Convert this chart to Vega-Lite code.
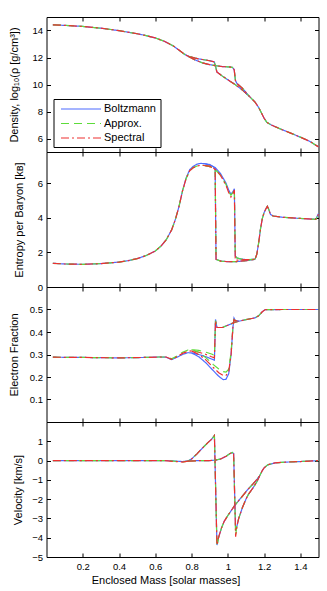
{
"$schema": "https://vega.github.io/schema/vega-lite/v6.json",
"autosize": {"type": "pad"},
"padding": {"left": 7.5, "top": 16, "right": 10, "bottom": 5},
"background": "white",
"spacing": 0,
"bounds": "flush",
"config": {
  "font": "Liberation Sans",
  "view": {"stroke": "#000", "strokeWidth": 1},
  "axis": {"domain": false, "grid": false, "tickColor": "#000", "tickSize": -4, "tickWidth": 1, "labelColor": "#000", "titleColor": "#000", "labelFont": "Liberation Sans", "titleFont": "Liberation Sans", "labelFontSize": 9.5, "titleFontSize": 11, "titleFontWeight": "normal", "labelOverlap": false, "labelFlush": false, "labelPadding": 8},
  "axisLeft": {"titleBaseline": "middle"},
  "legend": {"orient": "none", "legendX": 7, "legendY": 82, "title": null, "symbolType": "M-4,0H4", "symbolSize": 100, "symbolStrokeWidth": 1.2, "symbolOffset": 17.5, "labelOffset": 17, "labelFontSize": 11, "labelFont": "Liberation Sans", "labelColor": "#000", "padding": 4, "rowPadding": 3.5, "strokeColor": "#000", "fillColor": "#fff"}
},
"datasets": {
"rho": [
{"snap":"A","x":0.035,"Boltzmann":14.42,"Approx":14.42,"Spectral":14.42},
{"snap":"A","x":0.1,"Boltzmann":14.38,"Approx":14.38,"Spectral":14.38},
{"snap":"A","x":0.2,"Boltzmann":14.3,"Approx":14.3,"Spectral":14.3},
{"snap":"A","x":0.3,"Boltzmann":14.17,"Approx":14.17,"Spectral":14.17},
{"snap":"A","x":0.4,"Boltzmann":13.99,"Approx":13.99,"Spectral":13.99},
{"snap":"A","x":0.5,"Boltzmann":13.76,"Approx":13.76,"Spectral":13.76},
{"snap":"A","x":0.55,"Boltzmann":13.62,"Approx":13.62,"Spectral":13.62},
{"snap":"A","x":0.6,"Boltzmann":13.45,"Approx":13.45,"Spectral":13.45},
{"snap":"A","x":0.65,"Boltzmann":13.2,"Approx":13.2,"Spectral":13.2},
{"snap":"A","x":0.7,"Boltzmann":12.85,"Approx":12.85,"Spectral":12.85},
{"snap":"A","x":0.73,"Boltzmann":12.55,"Approx":12.55,"Spectral":12.55},
{"snap":"A","x":0.76,"Boltzmann":12.25,"Approx":12.25,"Spectral":12.25},
{"snap":"A","x":0.78,"Boltzmann":12.1,"Approx":12.1,"Spectral":12.1},
{"snap":"A","x":0.82,"Boltzmann":11.95,"Approx":11.95,"Spectral":11.95},
{"snap":"A","x":0.86,"Boltzmann":11.85,"Approx":11.85,"Spectral":11.85},
{"snap":"A","x":0.9,"Boltzmann":11.76,"Approx":11.76,"Spectral":11.76},
{"snap":"A","x":0.925,"Boltzmann":11.68,"Approx":11.68,"Spectral":11.68},
{"snap":"A","x":0.933,"Boltzmann":11.3,"Approx":11.3,"Spectral":11.3},
{"snap":"A","x":0.94,"Boltzmann":10.92,"Approx":10.92,"Spectral":10.92},
{"snap":"A","x":0.97,"Boltzmann":10.62,"Approx":10.62,"Spectral":10.62},
{"snap":"A","x":1.0,"Boltzmann":10.35,"Approx":10.35,"Spectral":10.35},
{"snap":"A","x":1.04,"Boltzmann":10.0,"Approx":10.0,"Spectral":10.0},
{"snap":"A","x":1.08,"Boltzmann":9.6,"Approx":9.6,"Spectral":9.6},
{"snap":"A","x":1.12,"Boltzmann":9.1,"Approx":9.1,"Spectral":9.1},
{"snap":"A","x":1.15,"Boltzmann":8.7,"Approx":8.7,"Spectral":8.7},
{"snap":"A","x":1.17,"Boltzmann":8.3,"Approx":8.3,"Spectral":8.3},
{"snap":"A","x":1.185,"Boltzmann":7.9,"Approx":7.9,"Spectral":7.9},
{"snap":"A","x":1.2,"Boltzmann":7.5,"Approx":7.5,"Spectral":7.5},
{"snap":"A","x":1.215,"Boltzmann":7.2,"Approx":7.2,"Spectral":7.2},
{"snap":"A","x":1.24,"Boltzmann":7.0,"Approx":7.0,"Spectral":7.0},
{"snap":"A","x":1.3,"Boltzmann":6.65,"Approx":6.65,"Spectral":6.65},
{"snap":"A","x":1.35,"Boltzmann":6.38,"Approx":6.38,"Spectral":6.38},
{"snap":"A","x":1.4,"Boltzmann":6.1,"Approx":6.1,"Spectral":6.1},
{"snap":"A","x":1.45,"Boltzmann":5.8,"Approx":5.8,"Spectral":5.8},
{"snap":"A","x":1.5,"Boltzmann":5.38,"Approx":5.38,"Spectral":5.38},
{"snap":"B","x":0.78,"Boltzmann":12.1,"Approx":12.1,"Spectral":12.1},
{"snap":"B","x":0.82,"Boltzmann":11.82,"Approx":11.82,"Spectral":11.82},
{"snap":"B","x":0.86,"Boltzmann":11.6,"Approx":11.6,"Spectral":11.6},
{"snap":"B","x":0.9,"Boltzmann":11.47,"Approx":11.47,"Spectral":11.47},
{"snap":"B","x":0.93,"Boltzmann":11.4,"Approx":11.4,"Spectral":11.4},
{"snap":"B","x":0.97,"Boltzmann":11.33,"Approx":11.33,"Spectral":11.33},
{"snap":"B","x":1.0,"Boltzmann":11.31,"Approx":11.31,"Spectral":11.31},
{"snap":"B","x":1.025,"Boltzmann":11.27,"Approx":11.27,"Spectral":11.27},
{"snap":"B","x":1.035,"Boltzmann":11.1,"Approx":11.1,"Spectral":11.1},
{"snap":"B","x":1.042,"Boltzmann":10.3,"Approx":10.3,"Spectral":10.3},
{"snap":"B","x":1.05,"Boltzmann":10.08,"Approx":10.08,"Spectral":10.08},
{"snap":"B","x":1.08,"Boltzmann":9.72,"Approx":9.72,"Spectral":9.72},
{"snap":"B","x":1.12,"Boltzmann":9.1,"Approx":9.1,"Spectral":9.1}
],
"ent": [
{"snap":"A","x":0.035,"Boltzmann":1.37,"Approx":1.37,"Spectral":1.37},
{"snap":"A","x":0.1,"Boltzmann":1.33,"Approx":1.33,"Spectral":1.33},
{"snap":"A","x":0.2,"Boltzmann":1.31,"Approx":1.31,"Spectral":1.31},
{"snap":"A","x":0.3,"Boltzmann":1.35,"Approx":1.35,"Spectral":1.35},
{"snap":"A","x":0.4,"Boltzmann":1.44,"Approx":1.44,"Spectral":1.44},
{"snap":"A","x":0.45,"Boltzmann":1.52,"Approx":1.52,"Spectral":1.52},
{"snap":"A","x":0.5,"Boltzmann":1.64,"Approx":1.64,"Spectral":1.64},
{"snap":"A","x":0.55,"Boltzmann":1.82,"Approx":1.82,"Spectral":1.82},
{"snap":"A","x":0.6,"Boltzmann":2.08,"Approx":2.08,"Spectral":2.08},
{"snap":"A","x":0.63,"Boltzmann":2.35,"Approx":2.35,"Spectral":2.35},
{"snap":"A","x":0.66,"Boltzmann":2.72,"Approx":2.72,"Spectral":2.72},
{"snap":"A","x":0.69,"Boltzmann":3.3,"Approx":3.3,"Spectral":3.3},
{"snap":"A","x":0.71,"Boltzmann":3.88,"Approx":3.88,"Spectral":3.88},
{"snap":"A","x":0.73,"Boltzmann":4.62,"Approx":4.62,"Spectral":4.62},
{"snap":"A","x":0.75,"Boltzmann":5.55,"Approx":5.55,"Spectral":5.55},
{"snap":"A","x":0.77,"Boltzmann":6.3,"Approx":6.27,"Spectral":6.27},
{"snap":"A","x":0.79,"Boltzmann":6.78,"Approx":6.72,"Spectral":6.72},
{"snap":"A","x":0.81,"Boltzmann":6.98,"Approx":6.9,"Spectral":6.9},
{"snap":"A","x":0.83,"Boltzmann":7.1,"Approx":6.99,"Spectral":6.99},
{"snap":"A","x":0.85,"Boltzmann":7.14,"Approx":7.03,"Spectral":7.03},
{"snap":"A","x":0.87,"Boltzmann":7.13,"Approx":7.02,"Spectral":7.02},
{"snap":"A","x":0.9,"Boltzmann":7.05,"Approx":6.95,"Spectral":6.95},
{"snap":"A","x":0.92,"Boltzmann":6.95,"Approx":6.87,"Spectral":6.87},
{"snap":"A","x":0.93,"Boltzmann":6.86,"Approx":6.8,"Spectral":6.8},
{"snap":"A","x":0.935,"Boltzmann":1.6,"Approx":1.6,"Spectral":1.6},
{"snap":"A","x":0.96,"Boltzmann":1.5,"Approx":1.5,"Spectral":1.5},
{"snap":"A","x":1.0,"Boltzmann":1.46,"Approx":1.46,"Spectral":1.46},
{"snap":"A","x":1.05,"Boltzmann":1.47,"Approx":1.47,"Spectral":1.47},
{"snap":"A","x":1.1,"Boltzmann":1.52,"Approx":1.52,"Spectral":1.52},
{"snap":"A","x":1.15,"Boltzmann":1.6,"Approx":1.6,"Spectral":1.6},
{"snap":"A","x":1.16,"Boltzmann":1.9,"Approx":1.9,"Spectral":1.9},
{"snap":"A","x":1.17,"Boltzmann":2.55,"Approx":2.55,"Spectral":2.55},
{"snap":"A","x":1.18,"Boltzmann":3.35,"Approx":3.35,"Spectral":3.35},
{"snap":"A","x":1.19,"Boltzmann":3.95,"Approx":3.95,"Spectral":3.95},
{"snap":"A","x":1.2,"Boltzmann":4.3,"Approx":4.3,"Spectral":4.3},
{"snap":"A","x":1.21,"Boltzmann":4.52,"Approx":4.52,"Spectral":4.52},
{"snap":"A","x":1.218,"Boltzmann":4.66,"Approx":4.66,"Spectral":4.66},
{"snap":"A","x":1.226,"Boltzmann":4.48,"Approx":4.48,"Spectral":4.48},
{"snap":"A","x":1.235,"Boltzmann":4.2,"Approx":4.2,"Spectral":4.2},
{"snap":"A","x":1.25,"Boltzmann":4.1,"Approx":4.1,"Spectral":4.1},
{"snap":"A","x":1.3,"Boltzmann":4.03,"Approx":4.03,"Spectral":4.03},
{"snap":"A","x":1.4,"Boltzmann":3.96,"Approx":3.96,"Spectral":3.96},
{"snap":"A","x":1.485,"Boltzmann":3.91,"Approx":3.91,"Spectral":3.91},
{"snap":"A","x":1.5,"Boltzmann":4.25,"Approx":4.2,"Spectral":4.2},
{"snap":"B","x":0.87,"Boltzmann":7.13,"Approx":7.02,"Spectral":7.02},
{"snap":"B","x":0.9,"Boltzmann":7.08,"Approx":6.98,"Spectral":6.98},
{"snap":"B","x":0.93,"Boltzmann":6.9,"Approx":6.8,"Spectral":6.8},
{"snap":"B","x":0.96,"Boltzmann":6.55,"Approx":6.45,"Spectral":6.45},
{"snap":"B","x":0.99,"Boltzmann":6.0,"Approx":5.92,"Spectral":5.88},
{"snap":"B","x":1.005,"Boltzmann":5.6,"Approx":5.52,"Spectral":5.45},
{"snap":"B","x":1.017,"Boltzmann":5.36,"Approx":5.3,"Spectral":5.2},
{"snap":"B","x":1.028,"Boltzmann":5.5,"Approx":5.45,"Spectral":5.38},
{"snap":"B","x":1.036,"Boltzmann":5.68,"Approx":5.65,"Spectral":5.6},
{"snap":"B","x":1.041,"Boltzmann":1.8,"Approx":1.8,"Spectral":1.55},
{"snap":"B","x":1.05,"Boltzmann":1.68,"Approx":1.68,"Spectral":1.55},
{"snap":"B","x":1.07,"Boltzmann":1.62,"Approx":1.62,"Spectral":1.56},
{"snap":"B","x":1.1,"Boltzmann":1.58,"Approx":1.58,"Spectral":1.58},
{"snap":"B","x":1.15,"Boltzmann":1.6,"Approx":1.6,"Spectral":1.6}
],
"ye": [
{"snap":"A","x":0.035,"Boltzmann":0.288,"Approx":0.288,"Spectral":0.288},
{"snap":"A","x":0.2,"Boltzmann":0.287,"Approx":0.287,"Spectral":0.287},
{"snap":"A","x":0.4,"Boltzmann":0.285,"Approx":0.285,"Spectral":0.285},
{"snap":"A","x":0.55,"Boltzmann":0.287,"Approx":0.287,"Spectral":0.287},
{"snap":"A","x":0.62,"Boltzmann":0.289,"Approx":0.289,"Spectral":0.289},
{"snap":"A","x":0.66,"Boltzmann":0.288,"Approx":0.289,"Spectral":0.289},
{"snap":"A","x":0.69,"Boltzmann":0.277,"Approx":0.281,"Spectral":0.279},
{"snap":"A","x":0.72,"Boltzmann":0.288,"Approx":0.293,"Spectral":0.29},
{"snap":"A","x":0.75,"Boltzmann":0.3,"Approx":0.31,"Spectral":0.305},
{"snap":"A","x":0.78,"Boltzmann":0.308,"Approx":0.32,"Spectral":0.314},
{"snap":"A","x":0.8,"Boltzmann":0.307,"Approx":0.322,"Spectral":0.316},
{"snap":"A","x":0.84,"Boltzmann":0.3,"Approx":0.318,"Spectral":0.31},
{"snap":"A","x":0.88,"Boltzmann":0.29,"Approx":0.31,"Spectral":0.3},
{"snap":"A","x":0.91,"Boltzmann":0.28,"Approx":0.302,"Spectral":0.29},
{"snap":"A","x":0.926,"Boltzmann":0.275,"Approx":0.297,"Spectral":0.285},
{"snap":"A","x":0.932,"Boltzmann":0.456,"Approx":0.45,"Spectral":0.45},
{"snap":"A","x":0.94,"Boltzmann":0.42,"Approx":0.42,"Spectral":0.42},
{"snap":"A","x":0.97,"Boltzmann":0.42,"Approx":0.42,"Spectral":0.42},
{"snap":"A","x":1.0,"Boltzmann":0.43,"Approx":0.43,"Spectral":0.43},
{"snap":"A","x":1.04,"Boltzmann":0.444,"Approx":0.444,"Spectral":0.444},
{"snap":"A","x":1.1,"Boltzmann":0.455,"Approx":0.455,"Spectral":0.455},
{"snap":"A","x":1.15,"Boltzmann":0.463,"Approx":0.463,"Spectral":0.463},
{"snap":"A","x":1.17,"Boltzmann":0.472,"Approx":0.472,"Spectral":0.472},
{"snap":"A","x":1.19,"Boltzmann":0.49,"Approx":0.49,"Spectral":0.49},
{"snap":"A","x":1.205,"Boltzmann":0.499,"Approx":0.499,"Spectral":0.499},
{"snap":"A","x":1.3,"Boltzmann":0.5,"Approx":0.5,"Spectral":0.5},
{"snap":"A","x":1.5,"Boltzmann":0.5,"Approx":0.5,"Spectral":0.5},
{"snap":"B","x":0.8,"Boltzmann":0.307,"Approx":0.322,"Spectral":0.316},
{"snap":"B","x":0.84,"Boltzmann":0.29,"Approx":0.31,"Spectral":0.3},
{"snap":"B","x":0.88,"Boltzmann":0.262,"Approx":0.285,"Spectral":0.275},
{"snap":"B","x":0.92,"Boltzmann":0.228,"Approx":0.255,"Spectral":0.242},
{"snap":"B","x":0.95,"Boltzmann":0.203,"Approx":0.236,"Spectral":0.219},
{"snap":"B","x":0.975,"Boltzmann":0.188,"Approx":0.224,"Spectral":0.206},
{"snap":"B","x":0.99,"Boltzmann":0.19,"Approx":0.222,"Spectral":0.207},
{"snap":"B","x":1.005,"Boltzmann":0.215,"Approx":0.235,"Spectral":0.225},
{"snap":"B","x":1.018,"Boltzmann":0.3,"Approx":0.31,"Spectral":0.3},
{"snap":"B","x":1.028,"Boltzmann":0.42,"Approx":0.42,"Spectral":0.42},
{"snap":"B","x":1.034,"Boltzmann":0.462,"Approx":0.455,"Spectral":0.455},
{"snap":"B","x":1.042,"Boltzmann":0.45,"Approx":0.45,"Spectral":0.45},
{"snap":"B","x":1.06,"Boltzmann":0.449,"Approx":0.449,"Spectral":0.449}
],
"vel": [
{"snap":"A","x":0.035,"Boltzmann":0,"Approx":0,"Spectral":0},
{"snap":"A","x":0.3,"Boltzmann":0,"Approx":0,"Spectral":0},
{"snap":"A","x":0.5,"Boltzmann":0,"Approx":0,"Spectral":0},
{"snap":"A","x":0.65,"Boltzmann":0,"Approx":0,"Spectral":0},
{"snap":"A","x":0.7,"Boltzmann":-0.02,"Approx":-0.03,"Spectral":-0.04},
{"snap":"A","x":0.75,"Boltzmann":-0.05,"Approx":-0.07,"Spectral":-0.08},
{"snap":"A","x":0.78,"Boltzmann":-0.02,"Approx":-0.03,"Spectral":-0.03},
{"snap":"A","x":0.8,"Boltzmann":0.08,"Approx":0.08,"Spectral":0.08},
{"snap":"A","x":0.83,"Boltzmann":0.35,"Approx":0.35,"Spectral":0.35},
{"snap":"A","x":0.86,"Boltzmann":0.65,"Approx":0.65,"Spectral":0.65},
{"snap":"A","x":0.89,"Boltzmann":0.93,"Approx":0.93,"Spectral":0.93},
{"snap":"A","x":0.91,"Boltzmann":1.1,"Approx":1.1,"Spectral":1.1},
{"snap":"A","x":0.926,"Boltzmann":1.3,"Approx":1.3,"Spectral":1.3},
{"snap":"A","x":0.94,"Boltzmann":-4.38,"Approx":-4.45,"Spectral":-4.38},
{"snap":"A","x":0.95,"Boltzmann":-3.95,"Approx":-3.95,"Spectral":-3.95},
{"snap":"A","x":0.965,"Boltzmann":-3.5,"Approx":-3.5,"Spectral":-3.5},
{"snap":"A","x":0.98,"Boltzmann":-3.15,"Approx":-3.15,"Spectral":-3.15},
{"snap":"A","x":1.0,"Boltzmann":-2.85,"Approx":-2.85,"Spectral":-2.85},
{"snap":"A","x":1.04,"Boltzmann":-2.3,"Approx":-2.3,"Spectral":-2.3},
{"snap":"A","x":1.08,"Boltzmann":-1.85,"Approx":-1.85,"Spectral":-1.85},
{"snap":"A","x":1.11,"Boltzmann":-1.5,"Approx":-1.5,"Spectral":-1.5},
{"snap":"A","x":1.14,"Boltzmann":-1.2,"Approx":-1.2,"Spectral":-1.2},
{"snap":"A","x":1.16,"Boltzmann":-0.98,"Approx":-0.98,"Spectral":-0.98},
{"snap":"A","x":1.175,"Boltzmann":-0.8,"Approx":-0.8,"Spectral":-0.8},
{"snap":"A","x":1.19,"Boltzmann":-0.52,"Approx":-0.52,"Spectral":-0.52},
{"snap":"A","x":1.2,"Boltzmann":-0.38,"Approx":-0.38,"Spectral":-0.38},
{"snap":"A","x":1.22,"Boltzmann":-0.22,"Approx":-0.22,"Spectral":-0.22},
{"snap":"A","x":1.26,"Boltzmann":-0.12,"Approx":-0.12,"Spectral":-0.12},
{"snap":"A","x":1.32,"Boltzmann":-0.08,"Approx":-0.08,"Spectral":-0.08},
{"snap":"A","x":1.4,"Boltzmann":-0.05,"Approx":-0.05,"Spectral":-0.05},
{"snap":"A","x":1.5,"Boltzmann":0,"Approx":0,"Spectral":0},
{"snap":"B","x":0.78,"Boltzmann":-0.02,"Approx":-0.03,"Spectral":-0.03},
{"snap":"B","x":0.85,"Boltzmann":0,"Approx":0,"Spectral":0},
{"snap":"B","x":0.9,"Boltzmann":0,"Approx":0,"Spectral":0},
{"snap":"B","x":0.93,"Boltzmann":0.02,"Approx":0.02,"Spectral":0.02},
{"snap":"B","x":0.96,"Boltzmann":0.08,"Approx":0.08,"Spectral":0.08},
{"snap":"B","x":0.99,"Boltzmann":0.22,"Approx":0.22,"Spectral":0.22},
{"snap":"B","x":1.01,"Boltzmann":0.35,"Approx":0.35,"Spectral":0.35},
{"snap":"B","x":1.025,"Boltzmann":0.42,"Approx":0.42,"Spectral":0.42},
{"snap":"B","x":1.032,"Boltzmann":0.36,"Approx":0.36,"Spectral":0.36},
{"snap":"B","x":1.043,"Boltzmann":-3.65,"Approx":-3.85,"Spectral":-3.95},
{"snap":"B","x":1.05,"Boltzmann":-3.4,"Approx":-3.4,"Spectral":-3.4},
{"snap":"B","x":1.06,"Boltzmann":-3.0,"Approx":-3.0,"Spectral":-3.0},
{"snap":"B","x":1.08,"Boltzmann":-2.45,"Approx":-2.45,"Spectral":-2.45},
{"snap":"B","x":1.1,"Boltzmann":-2.0,"Approx":-2.0,"Spectral":-2.0},
{"snap":"B","x":1.113,"Boltzmann":-1.76,"Approx":-1.76,"Spectral":-1.76},
{"snap":"B","x":1.14,"Boltzmann":-1.4,"Approx":-1.4,"Spectral":-1.4},
{"snap":"B","x":1.16,"Boltzmann":-1.1,"Approx":-1.1,"Spectral":-1.1},
{"snap":"B","x":1.175,"Boltzmann":-0.8,"Approx":-0.8,"Spectral":-0.8}
]
},
"vconcat": [
{
 "width": 272, "height": 135,
 "data": {"name": "rho"},
 "transform": [{"fold": ["Boltzmann", "Approx", "Spectral"], "as": ["method", "y"]}],
 "layer": [
  {"mark": {"type": "line", "strokeWidth": 1.2},
   "encoding": {
    "x": {"field": "x", "type": "quantitative", "scale": {"domain": [0, 1.5], "nice": false, "zero": false}, "axis": {"orient": "bottom", "values": [0.2,0.4,0.6,0.8,1,1.2,1.4], "labels": false, "title": null}},
    "y": {"field": "y", "type": "quantitative", "scale": {"domain": [5, 15], "nice": false, "zero": false}, "axis": {"values": [6,8,10,12,14], "format": "d", "title": "Density, log₁₀(ρ [g/cm³])", "titleX": -32}},
    "color": {"field": "method", "type": "nominal", "scale": {"domain": ["Boltzmann", "Approx", "Spectral"], "range": ["#4d6bff", "#5ddc3a", "#ee3030"]}, "legend": {"labelExpr": "datum.label == 'Approx' ? 'Approx.' : datum.label"}},
    "strokeDash": {"field": "method", "type": "nominal", "scale": {"domain": ["Boltzmann", "Approx", "Spectral"], "range": [[1, 0], [8, 5], [8, 3, 2, 3]]}, "legend": {"labelExpr": "datum.label == 'Approx' ? 'Approx.' : datum.label"}},
    "detail": {"field": "snap"}
   }},
  {"mark": {"type": "line", "opacity": 0},
   "encoding": {
    "x": {"field": "x", "type": "quantitative", "axis": {"orient": "top", "values": [0.2,0.4,0.6,0.8,1,1.2,1.4], "labels": false, "title": null}},
    "y": {"field": "y", "type": "quantitative", "axis": {"orient": "right", "values": [6,8,10,12,14], "labels": false, "title": null}},
    "detail": {"field": "snap"}
   }}
 ],
 "resolve": {"axis": {"x": "independent", "y": "independent"}}
},
{
 "width": 272, "height": 135,
 "data": {"name": "ent"},
 "transform": [{"fold": ["Boltzmann", "Approx", "Spectral"], "as": ["method", "y"]}],
 "layer": [
  {"mark": {"type": "line", "strokeWidth": 1.2},
   "encoding": {
    "x": {"field": "x", "type": "quantitative", "scale": {"domain": [0, 1.5], "nice": false, "zero": false}, "axis": {"orient": "bottom", "values": [0.2,0.4,0.6,0.8,1,1.2,1.4], "labels": false, "title": null}},
    "y": {"field": "y", "type": "quantitative", "scale": {"domain": [0, 7.8], "nice": false, "zero": false}, "axis": {"values": [0,2,4,6], "format": "d", "title": "Entropy per Baryon [kʙ]", "titleX": -26.7}},
    "color": {"field": "method", "type": "nominal", "scale": {"domain": ["Boltzmann", "Approx", "Spectral"], "range": ["#4d6bff", "#5ddc3a", "#ee3030"]}},
    "strokeDash": {"field": "method", "type": "nominal", "scale": {"domain": ["Boltzmann", "Approx", "Spectral"], "range": [[1, 0], [8, 5], [8, 3, 2, 3]]}},
    "detail": {"field": "snap"}
   }},
  {"mark": {"type": "line", "opacity": 0},
   "encoding": {
    "x": {"field": "x", "type": "quantitative", "axis": {"orient": "top", "values": [0.2,0.4,0.6,0.8,1,1.2,1.4], "labels": false, "title": null}},
    "y": {"field": "y", "type": "quantitative", "axis": {"orient": "right", "values": [0,2,4,6], "labels": false, "title": null}},
    "detail": {"field": "snap"}
   }}
 ],
 "resolve": {"axis": {"x": "independent", "y": "independent"}}
},
{
 "width": 272, "height": 135,
 "data": {"name": "ye"},
 "transform": [{"fold": ["Boltzmann", "Approx", "Spectral"], "as": ["method", "y"]}],
 "layer": [
  {"mark": {"type": "line", "strokeWidth": 1.2},
   "encoding": {
    "x": {"field": "x", "type": "quantitative", "scale": {"domain": [0, 1.5], "nice": false, "zero": false}, "axis": {"orient": "bottom", "values": [0.2,0.4,0.6,0.8,1,1.2,1.4], "labels": false, "title": null}},
    "y": {"field": "y", "type": "quantitative", "scale": {"domain": [0, 0.6], "nice": false, "zero": false}, "axis": {"values": [0.1,0.2,0.3,0.4,0.5], "format": ".1f", "title": "Electron Fraction", "titleX": -31.7}},
    "color": {"field": "method", "type": "nominal", "scale": {"domain": ["Boltzmann", "Approx", "Spectral"], "range": ["#4d6bff", "#5ddc3a", "#ee3030"]}},
    "strokeDash": {"field": "method", "type": "nominal", "scale": {"domain": ["Boltzmann", "Approx", "Spectral"], "range": [[1, 0], [8, 5], [8, 3, 2, 3]]}},
    "detail": {"field": "snap"}
   }},
  {"mark": {"type": "line", "opacity": 0},
   "encoding": {
    "x": {"field": "x", "type": "quantitative", "axis": {"orient": "top", "values": [0.2,0.4,0.6,0.8,1,1.2,1.4], "labels": false, "title": null}},
    "y": {"field": "y", "type": "quantitative", "axis": {"orient": "right", "values": [0.1,0.2,0.3,0.4,0.5], "labels": false, "title": null}},
    "detail": {"field": "snap"}
   }}
 ],
 "resolve": {"axis": {"x": "independent", "y": "independent"}}
},
{
 "width": 272, "height": 135,
 "data": {"name": "vel"},
 "transform": [{"fold": ["Boltzmann", "Approx", "Spectral"], "as": ["method", "y"]}],
 "layer": [
  {"mark": {"type": "line", "strokeWidth": 1.2},
   "encoding": {
    "x": {"field": "x", "type": "quantitative", "scale": {"domain": [0, 1.5], "nice": false, "zero": false}, "axis": {"orient": "bottom", "values": [0.2,0.4,0.6,0.8,1,1.2,1.4], "format": "~g", "title": "Enclosed Mass [solar masses]", "titleX": 119}},
    "y": {"field": "y", "type": "quantitative", "scale": {"domain": [-5, 2], "nice": false, "zero": false}, "axis": {"values": [-5,-4,-3,-2,-1,0,1], "format": "d", "title": "Velocity [km/s]", "titleX": -28.3}},
    "color": {"field": "method", "type": "nominal", "scale": {"domain": ["Boltzmann", "Approx", "Spectral"], "range": ["#4d6bff", "#5ddc3a", "#ee3030"]}},
    "strokeDash": {"field": "method", "type": "nominal", "scale": {"domain": ["Boltzmann", "Approx", "Spectral"], "range": [[1, 0], [8, 5], [8, 3, 2, 3]]}},
    "detail": {"field": "snap"}
   }},
  {"mark": {"type": "line", "opacity": 0},
   "encoding": {
    "x": {"field": "x", "type": "quantitative", "axis": {"orient": "top", "values": [0.2,0.4,0.6,0.8,1,1.2,1.4], "labels": false, "title": null}},
    "y": {"field": "y", "type": "quantitative", "axis": {"orient": "right", "values": [-5,-4,-3,-2,-1,0,1], "labels": false, "title": null}},
    "detail": {"field": "snap"}
   }}
 ],
 "resolve": {"axis": {"x": "independent", "y": "independent"}}
}
]
}
